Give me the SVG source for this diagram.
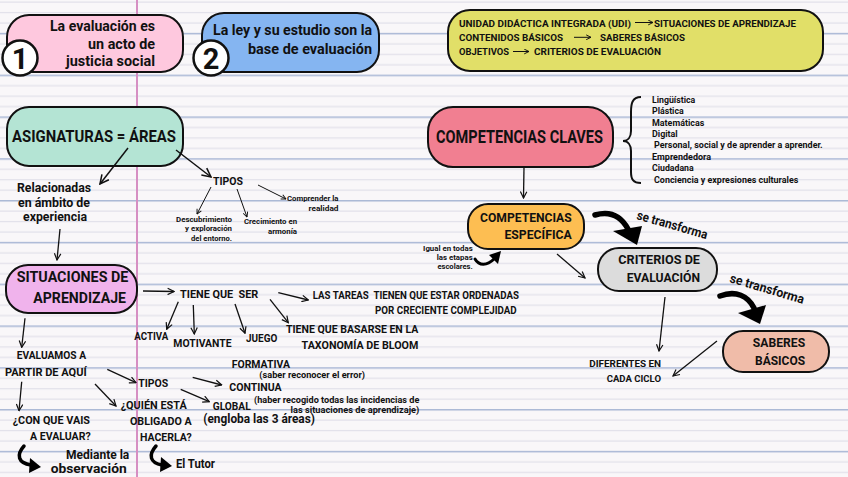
<svg xmlns="http://www.w3.org/2000/svg" width="848" height="477" viewBox="0 0 848 477">
<defs>
<pattern id="paper" patternUnits="userSpaceOnUse" x="0" y="0" width="848" height="41.8">
<line x1="0" y1="2.2" x2="848" y2="2.2" stroke="#e2e1ea" stroke-width="1.3"/>
<line x1="0" y1="12.65" x2="848" y2="12.65" stroke="#e2e1ea" stroke-width="1.3"/>
<line x1="0" y1="23.1" x2="848" y2="23.1" stroke="#e2e1ea" stroke-width="1.3"/>
<line x1="0" y1="33.55" x2="848" y2="33.55" stroke="#a9b7d5" stroke-width="1.6"/>
</pattern>
<marker id="a" viewBox="0 0 10 10" refX="9" refY="5" markerWidth="8" markerHeight="8" markerUnits="userSpaceOnUse" orient="auto"><path d="M1,1 L9,5 L1,9" fill="none" stroke="#111" stroke-width="1.5"/></marker>
<marker id="ab" viewBox="0 0 10 10" refX="9" refY="5" markerWidth="11" markerHeight="11" markerUnits="userSpaceOnUse" orient="auto"><path d="M1,1 L9,5 L1,9" fill="none" stroke="#111" stroke-width="1.4"/></marker>
<marker id="as" viewBox="0 0 10 10" refX="9" refY="5" markerWidth="6" markerHeight="6" markerUnits="userSpaceOnUse" orient="auto"><path d="M1,1 L9,5 L1,9" fill="none" stroke="#111" stroke-width="1.6"/></marker>
</defs>
<style>
.t{font-family:Roboto,"Noto Sans","DejaVu Sans",sans-serif;font-weight:700;fill:#111}
.box{stroke:#111;stroke-width:2}
.c{fill:none;stroke:#111;stroke-width:1.3;marker-end:url(#a)}
.cb{fill:none;stroke:#111;stroke-width:1.5;marker-end:url(#ab)}
.cs{fill:none;stroke:#111;stroke-width:1;marker-end:url(#as)}
.thick{fill:none;stroke:#000;stroke-linecap:round}
.head{fill:#000}
.e{text-anchor:end}
.m{text-anchor:middle}
</style>
<rect width="848" height="477" fill="#f9f7f9"/>
<rect width="848" height="477" fill="url(#paper)"/>
<line x1="137" y1="0" x2="137" y2="477" stroke="#d68fc3" stroke-width="2"/>

<g id="node-1">
<rect class="box" x="7" y="15" width="176" height="57" rx="22" fill="#fec8de"/>
<text class="t e" font-size="15" x="155" y="31" textLength="105" lengthAdjust="spacingAndGlyphs">La evaluación es</text>
<text class="t e" font-size="15" x="155" y="48.5" textLength="67" lengthAdjust="spacingAndGlyphs">un acto de</text>
<text class="t e" font-size="15" x="155" y="66" textLength="89" lengthAdjust="spacingAndGlyphs">justicia social</text>
<circle cx="20" cy="58" r="17.5" fill="#fff" stroke="#111" stroke-width="2.5"/>
<text class="t m" font-size="29" x="20" y="68.5">1</text>
</g>

<g id="node-2">
<rect class="box" x="202" y="13" width="177" height="59" rx="22" fill="#85b5f1"/>
<text class="t e" font-size="15" x="372" y="35" textLength="159" lengthAdjust="spacingAndGlyphs">La ley y su estudio son la</text>
<text class="t e" font-size="15" x="372" y="54" textLength="124" lengthAdjust="spacingAndGlyphs">base de evaluación</text>
<circle cx="211" cy="58" r="17.5" fill="#fff" stroke="#111" stroke-width="2.5"/>
<text class="t m" font-size="29" x="211" y="68.5">2</text>
</g>

<g id="node-udi">
<rect class="box" x="448" y="10" width="375" height="61" rx="22" fill="#e1df68"/>
<text class="t" font-size="9.8" x="459" y="27.3" textLength="172" lengthAdjust="spacingAndGlyphs">UNIDAD DIDÁCTICA INTEGRADA (UDI)</text>
<text class="t" font-size="9.8" x="654" y="27.3" textLength="142" lengthAdjust="spacingAndGlyphs">SITUACIONES DE APRENDIZAJE</text>
<text class="t" font-size="9.8" x="459" y="41" textLength="104" lengthAdjust="spacingAndGlyphs">CONTENIDOS BÁSICOS</text>
<text class="t" font-size="9.8" x="600" y="41" textLength="85" lengthAdjust="spacingAndGlyphs">SABERES BÁSICOS</text>
<text class="t" font-size="9.8" x="459" y="55" textLength="50" lengthAdjust="spacingAndGlyphs">OBJETIVOS</text>
<text class="t" font-size="9.8" x="534" y="55" textLength="127" lengthAdjust="spacingAndGlyphs">CRITERIOS DE EVALUACIÓN</text>
<path class="cs" d="M635,22.5 L653,22.5"/>
<path class="cs" d="M574,37.3 L591,37.3"/>
<path class="cs" d="M513,51.5 L529,51.5"/>
</g>

<g id="node-asignaturas">
<rect class="box" x="7" y="107" width="176" height="59" rx="22" fill="#b4e4d4"/>
<text class="t" font-size="17" x="12" y="142" textLength="164" lengthAdjust="spacingAndGlyphs">ASIGNATURAS = ÁREAS</text>
</g>

<g id="node-relacionadas">
<text class="t m" font-size="13" x="54" y="191.7" textLength="74" lengthAdjust="spacingAndGlyphs">Relacionadas</text>
<text class="t m" font-size="13" x="54" y="206.7" textLength="72" lengthAdjust="spacingAndGlyphs">en ámbito de</text>
<text class="t m" font-size="13" x="55" y="221" textLength="64" lengthAdjust="spacingAndGlyphs">experiencia</text>
</g>

<g id="node-tipos1">
<text class="t" font-size="11" x="213" y="185" textLength="30" lengthAdjust="spacingAndGlyphs">TIPOS</text>
</g>
<g id="node-descubrimiento">
<text class="t e" font-size="8" x="232" y="221.7" textLength="56" lengthAdjust="spacingAndGlyphs">Descubrimiento</text>
<text class="t e" font-size="8" x="232" y="231" textLength="47" lengthAdjust="spacingAndGlyphs">y exploración</text>
<text class="t e" font-size="8" x="232" y="240.7" textLength="41" lengthAdjust="spacingAndGlyphs">del entorno.</text>
</g>
<g id="node-crecimiento">
<text class="t e" font-size="8" x="297" y="224" textLength="53" lengthAdjust="spacingAndGlyphs">Crecimiento en</text>
<text class="t e" font-size="8" x="297" y="234" textLength="29" lengthAdjust="spacingAndGlyphs">armonía</text>
</g>
<g id="node-comprender">
<text class="t e" font-size="8" x="338.5" y="201" textLength="51.5" lengthAdjust="spacingAndGlyphs">Comprender la</text>
<text class="t e" font-size="8" x="338.5" y="210.7" textLength="30" lengthAdjust="spacingAndGlyphs">realidad</text>
</g>

<g id="node-claves">
<rect class="box" x="428" y="107" width="185" height="60" rx="25" fill="#f17f91"/>
<text class="t" font-size="17.5" x="436" y="142.5" textLength="167" lengthAdjust="spacingAndGlyphs">COMPETENCIAS CLAVES</text>
</g>

<g id="node-lista">
<text class="t" font-size="9" x="652" y="102.7" textLength="43.3" lengthAdjust="spacingAndGlyphs">Lingüística</text>
<text class="t" font-size="9" x="652" y="114.1" textLength="31.7" lengthAdjust="spacingAndGlyphs">Plástica</text>
<text class="t" font-size="9" x="652" y="125.5" textLength="52.3" lengthAdjust="spacingAndGlyphs">Matemáticas</text>
<text class="t" font-size="9" x="652" y="136.9" textLength="25.7" lengthAdjust="spacingAndGlyphs">Digital</text>
<text class="t" font-size="9" x="654" y="148.3" textLength="168.7" lengthAdjust="spacingAndGlyphs">Personal, social y de aprender a aprender.</text>
<text class="t" font-size="9" x="652" y="159.7" textLength="59" lengthAdjust="spacingAndGlyphs">Emprendedora</text>
<text class="t" font-size="9" x="652" y="171.1" textLength="41.7" lengthAdjust="spacingAndGlyphs">Ciudadana</text>
<text class="t" font-size="9" x="654" y="182.5" textLength="144.3" lengthAdjust="spacingAndGlyphs">Conciencia y expresiones culturales</text>
</g>

<g id="node-especifica">
<rect class="box" x="468" y="204" width="116" height="45" rx="20" fill="#fdbe52"/>
<text class="t e" font-size="12.5" x="571.7" y="221.7" textLength="91.7" lengthAdjust="spacingAndGlyphs">COMPETENCIAS</text>
<text class="t e" font-size="12.5" x="571.7" y="239.3" textLength="67.3" lengthAdjust="spacingAndGlyphs">ESPECÍFICA</text>
</g>

<g id="node-igual">
<text class="t e" font-size="8" x="472.7" y="251" textLength="49.6" lengthAdjust="spacingAndGlyphs">Igual en todas</text>
<text class="t e" font-size="8" x="472.7" y="259.5" textLength="36" lengthAdjust="spacingAndGlyphs">las etapas</text>
<text class="t e" font-size="8" x="472.7" y="269" textLength="35.3" lengthAdjust="spacingAndGlyphs">escolares.</text>
</g>

<g id="node-criterios">
<rect class="box" x="598" y="248" width="119" height="43" rx="21" fill="#dcdcdc"/>
<text class="t e" font-size="13" x="700" y="264" textLength="81.7" lengthAdjust="spacingAndGlyphs">CRITERIOS DE</text>
<text class="t e" font-size="13" x="700" y="282.3" textLength="73.3" lengthAdjust="spacingAndGlyphs">EVALUACIÓN</text>
</g>

<g id="node-saberes">
<rect class="box" x="723" y="331" width="106" height="41" rx="20" fill="#f0bca9"/>
<text class="t m" font-size="13" x="779" y="347.3" textLength="52.3" lengthAdjust="spacingAndGlyphs">SABERES</text>
<text class="t m" font-size="13" x="780" y="365" textLength="50" lengthAdjust="spacingAndGlyphs">BÁSICOS</text>
</g>

<g id="node-diferentes">
<text class="t e" font-size="9.8" x="661" y="367.3" textLength="71.7" lengthAdjust="spacingAndGlyphs">DIFERENTES EN</text>
<text class="t e" font-size="9.8" x="661" y="382" textLength="54.3" lengthAdjust="spacingAndGlyphs">CADA CICLO</text>
</g>

<g id="node-transforma">
<text class="t" font-size="13" transform="translate(636,219) rotate(16)" textLength="73" lengthAdjust="spacingAndGlyphs">se transforma</text>
<text class="t" font-size="13" transform="translate(729,282) rotate(16.6)" textLength="77" lengthAdjust="spacingAndGlyphs">se transforma</text>
</g>

<g id="node-situaciones">
<rect class="box" x="6" y="265" width="131" height="48" rx="22" fill="#f0b3ec"/>
<text class="t" font-size="15.5" x="16.7" y="282.3" textLength="111.7" lengthAdjust="spacingAndGlyphs">SITUACIONES DE</text>
<text class="t e" font-size="15.5" x="126" y="303.3" textLength="92.7" lengthAdjust="spacingAndGlyphs">APRENDIZAJE</text>
</g>

<g id="node-tiene">
<text class="t" font-size="10.8" x="180" y="297.7" textLength="78.3" lengthAdjust="spacingAndGlyphs" xml:space="preserve">TIENE QUE  SER</text>
</g>
<g id="node-tareas">
<text class="t" font-size="10.3" x="312.7" y="299.3" textLength="206.3" lengthAdjust="spacingAndGlyphs" xml:space="preserve">LAS TAREAS  TIENEN QUE ESTAR ORDENADAS</text>
<text class="t e" font-size="10.3" x="516.7" y="313.5" textLength="141.7" lengthAdjust="spacingAndGlyphs">POR CRECIENTE COMPLEJIDAD</text>
</g>
<g id="node-activa"><text class="t" font-size="10.8" x="134.3" y="340" textLength="34" lengthAdjust="spacingAndGlyphs">ACTIVA</text></g>
<g id="node-motivante"><text class="t" font-size="10.8" x="173.3" y="347.3" textLength="58.3" lengthAdjust="spacingAndGlyphs">MOTIVANTE</text></g>
<g id="node-juego"><text class="t" font-size="10.8" x="246" y="341.7" textLength="31.3" lengthAdjust="spacingAndGlyphs">JUEGO</text></g>
<g id="node-bloom">
<text class="t" font-size="10.8" x="286" y="333.3" textLength="132.3" lengthAdjust="spacingAndGlyphs">TIENE QUE BASARSE EN LA</text>
<text class="t e" font-size="10.8" x="418.3" y="349" textLength="116.7" lengthAdjust="spacingAndGlyphs">TAXONOMÍA DE BLOOM</text>
</g>

<g id="node-evaluamos">
<text class="t" font-size="10.8" x="16.7" y="359.3" textLength="69.3" lengthAdjust="spacingAndGlyphs">EVALUAMOS A</text>
<text class="t" font-size="10.8" x="5" y="375.7" textLength="81.7" lengthAdjust="spacingAndGlyphs">PARTIR DE AQUÍ</text>
</g>
<g id="node-tipos2"><text class="t" font-size="10.8" x="138.3" y="386.7" textLength="30" lengthAdjust="spacingAndGlyphs">TIPOS</text></g>
<g id="node-formativa">
<text class="t" font-size="10.8" x="231.7" y="368.3" textLength="58.3" lengthAdjust="spacingAndGlyphs">FORMATIVA</text>
<text class="t" font-size="8.3" x="259.3" y="377.5" textLength="105.7" lengthAdjust="spacingAndGlyphs">(saber reconocer el error)</text>
</g>
<g id="node-continua"><text class="t" font-size="10.8" x="229.3" y="390.7" textLength="52.3" lengthAdjust="spacingAndGlyphs">CONTINUA</text></g>
<g id="node-global">
<text class="t" font-size="10.8" x="212.7" y="410" textLength="38" lengthAdjust="spacingAndGlyphs">GLOBAL</text>
<text class="t" font-size="8.6" x="254" y="402.7" textLength="165.3" lengthAdjust="spacingAndGlyphs">(haber recogido todas las incidencias de</text>
<text class="t e" font-size="8.6" x="419.3" y="412.7" textLength="128.7" lengthAdjust="spacingAndGlyphs">las situaciones de aprendizaje)</text>
<text class="t" font-size="12.3" x="203.3" y="422.7" textLength="111.7" lengthAdjust="spacingAndGlyphs">(engloba las 3 áreas)</text>
</g>
<g id="node-quien">
<text class="t e" font-size="10.8" x="186.7" y="409.3" textLength="66" lengthAdjust="spacingAndGlyphs">¿QUIÉN ESTÁ</text>
<text class="t e" font-size="10.8" x="191.7" y="425" textLength="61.7" lengthAdjust="spacingAndGlyphs">OBLIGADO A</text>
<text class="t e" font-size="10.8" x="191.7" y="440.7" textLength="51.7" lengthAdjust="spacingAndGlyphs">HACERLA?</text>
</g>
<g id="node-con">
<text class="t e" font-size="10.8" x="90" y="424.3" textLength="77.3" lengthAdjust="spacingAndGlyphs">¿CON QUE VAIS</text>
<text class="t e" font-size="10.8" x="90.7" y="440" textLength="60.7" lengthAdjust="spacingAndGlyphs">A EVALUAR?</text>
</g>
<g id="node-mediante">
<text class="t e" font-size="12" x="129.3" y="459.3" textLength="63.3" lengthAdjust="spacingAndGlyphs">Mediante la</text>
<text class="t e" font-size="12" x="126.7" y="473" textLength="76" lengthAdjust="spacingAndGlyphs">observación</text>
</g>
<g id="node-tutor"><text class="t" font-size="12.5" x="176" y="467.7" textLength="39" lengthAdjust="spacingAndGlyphs">El Tutor</text></g>

<g id="connectors">
<path class="cb" d="M128,148 L100,184"/>
<path class="cb" d="M176,150 L211,177"/>
<path class="c" d="M60,229 L57,260"/>
<path class="cs" d="M211,187 L197,214"/>
<path class="cs" d="M237,189 L247,217"/>
<path class="cs" d="M258,185 L286,199"/>
<path d="M641,97 C632,97 631,104 631,112 L631,131 C631,137 628,141 623,141 C628,141 631,145 631,151 L631,172 C631,179 633,183 641,183" fill="none" stroke="#111" stroke-width="2"/>
<path class="c" d="M524,167 L523.5,198"/>
<path class="c" d="M557,254 L585,278"/>
<path class="c" d="M665,297 L659,351"/>
<path class="c" d="M717,341 L673,376"/>
<path class="c" d="M143,291 L174,291.5"/>
<path class="c" d="M178.3,301.7 L166.7,329.3"/>
<path class="c" d="M193.3,305 L194.3,334"/>
<path class="c" d="M235,304 L245,333.3"/>
<path class="c" d="M270,299.3 L288.3,322.7"/>
<path class="c" d="M278.3,292.7 L308.3,300"/>
<path class="c" d="M25,318.3 L21.7,347.3"/>
<path class="c" d="M107.3,369.3 L136,382.7"/>
<path class="c" d="M95,384 L116,406"/>
<path class="c" d="M21.7,381.7 L19,410.7"/>
<path class="c" d="M192.7,377.3 L221.7,385"/>
<path class="c" d="M180.7,389.3 L209.3,401.7"/>
<path class="thick" stroke-width="5.5" d="M595,215 C612,210 622,218 628,229"/>
<polygon class="head" points="613,231 642,226 637,245"/>
<path class="thick" stroke-width="5.5" d="M720,296 C736,290 748,296 754,308"/>
<polygon class="head" points="738,313 766,305 760,324"/>
<path class="thick" stroke-width="3" d="M475,259 C479,266 487,266 494,259"/>
<polygon class="head" points="501,251 489,255 498,264"/>
<path class="thick" stroke-width="3.5" d="M24,446 C16,455 18,463 31,465"/>
<polygon class="head" points="41,467 30,458 29,473"/>
<path class="thick" stroke-width="3.5" d="M156,446 C148,455 150,463 162,465"/>
<polygon class="head" points="172,466 161,457 160,472"/>
</g>
</svg>
